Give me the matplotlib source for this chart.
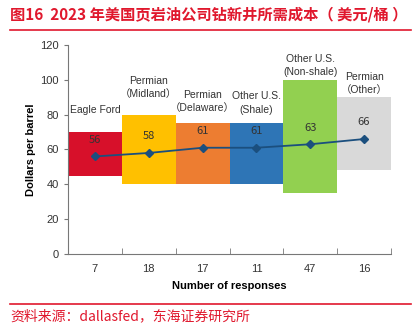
import matplotlib.pyplot as plt
from matplotlib.lines import Line2D

plt.rcParams['font.family'] = ['Liberation Sans', 'Noto Sans CJK SC', 'DejaVu Sans']

# cost ranges per region ($/barrel) and the average cost line
regions = ['Eagle Ford', 'Permian\n（Midland）', 'Permian\n（Delaware）',
           'Other U.S.\n(Shale)', 'Other U.S.\n(Non-shale)', 'Permian\n（Other）']
responses = ['7', '18', '17', '11', '47', '16']
low = [45, 40, 40, 40, 35, 48]
high = [70, 80, 75, 75, 100, 90]
avg = [56, 58, 61, 61, 63, 66]
colors = ['#D7102A', '#FFC000', '#ED7D31', '#2E75B6', '#92D050', '#D9D9D9']
# gap between bar top and its region label
label_gap = [10, 9, 6, 5, 1.5, 1]

red = '#E0182D'
fig = plt.figure(figsize=(4.2, 3.26), dpi=100)
ax = fig.add_axes([0.162, 0.221, 0.769, 0.641])

x = list(range(len(regions)))
heights = [h - l for h, l in zip(high, low)]
ax.bar(x, heights, bottom=low, width=1.0, color=colors, linewidth=0)
ax.plot(x, avg, color='#1B4F7E', lw=1.3, marker='D', ms=4.5, zorder=3)

for i in x:
    ax.text(i, avg[i] + 9.5, str(avg[i]), ha='center', va='center',
            fontsize=8, color='#333333', family=['Noto Sans CJK SC', 'DejaVu Sans'])
    ax.text(i, high[i] + label_gap[i], regions[i], ha='center', va='bottom',
            fontsize=7.5, color='#333333', linespacing=1.4)

ax.set_xlim(-0.5, len(regions) - 0.5)
ax.set_ylim(0, 120)
ax.set_yticks(range(0, 121, 20))
ax.set_xticks(x)
ax.set_xticklabels(responses)
ax.set_xticks([i + 0.5 for i in range(-1, len(regions))], minor=True)
ax.tick_params(axis='x', which='major', length=0, pad=7, labelsize=8, labelcolor='#333333')
ax.tick_params(axis='x', which='minor', direction='in', length=4, color='#777777')
ax.tick_params(axis='y', direction='out', length=3, labelsize=8, labelcolor='#333333', color='#777777')
for s in ['top', 'right']:
    ax.spines[s].set_visible(False)
for s in ['left', 'bottom']:
    ax.spines[s].set_color('#777777')
ax.set_xlabel('Number of responses', fontsize=8, fontweight='bold', labelpad=5)
ax.set_ylabel('Dollars per barrel', fontsize=8, fontweight='bold', labelpad=3)

fig.text(10 / 420, 1 - 15 / 326, '图16  2023 年美国页岩油公司钻新井所需成本（ 美元/桶 ）',
         fontsize=11, fontweight='bold', color=red, va='center',
         family=['Noto Sans CJK SC', 'DejaVu Sans'])
fig.add_artist(Line2D([10 / 420, 411 / 420], [1 - 30 / 326] * 2, color=red, lw=1.2))
fig.add_artist(Line2D([10 / 420, 411 / 420], [1 - 304 / 326] * 2, color=red, lw=1.2))
fig.text(10 / 420, 1 - 316 / 326, '资料来源：dallasfed，东海证券研究所',
         fontsize=10, color=red, va='center', family=['Noto Sans CJK SC', 'DejaVu Sans'])

fig.savefig('out.png', dpi=100)
